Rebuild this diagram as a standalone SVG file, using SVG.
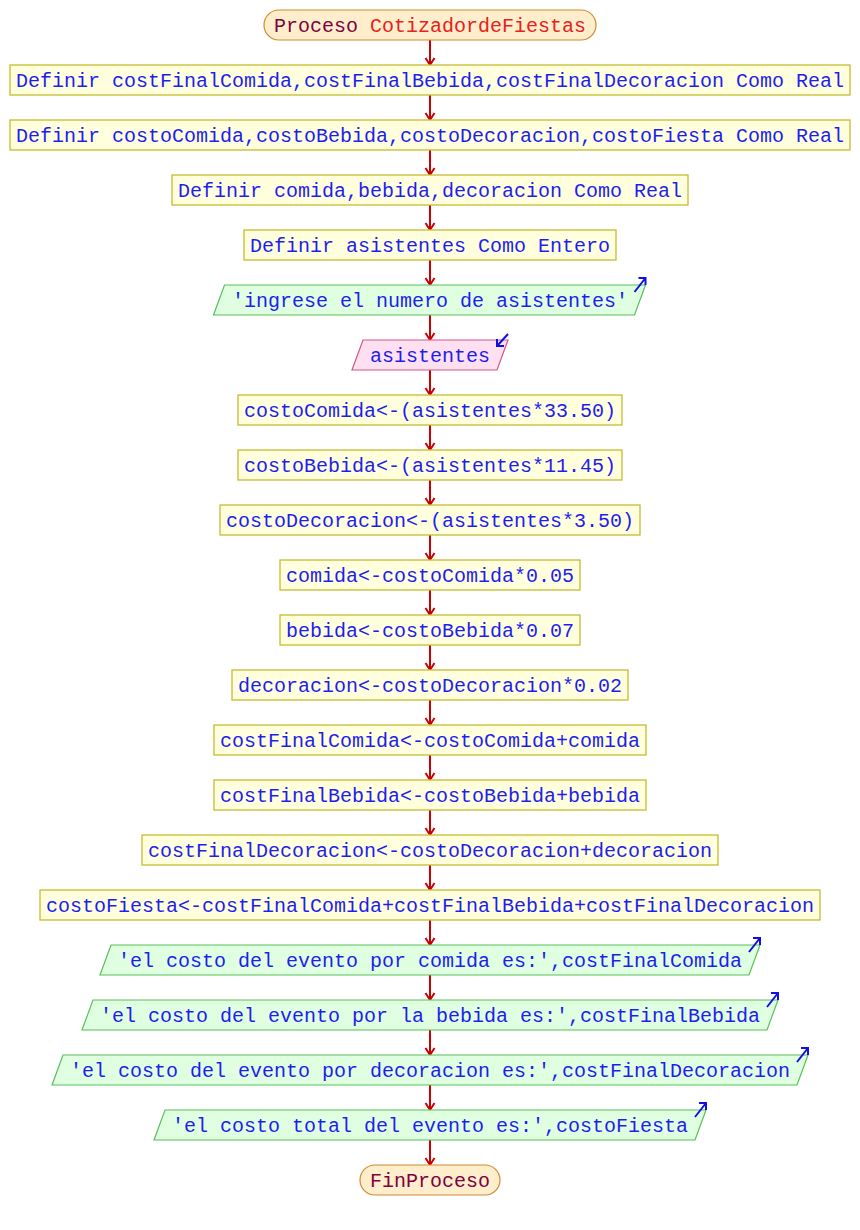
<svg xmlns="http://www.w3.org/2000/svg" xmlns:xlink="http://www.w3.org/1999/xlink" width="860" height="1230" viewBox="0 0 860 1230">
<style>
text{font-family:"Liberation Mono","Courier New",monospace;font-size:20px;text-anchor:middle;fill:#1e1ef0}
.kw{fill:#800040}
.nm{fill:#e82020}
.term{fill:#ffeecc;stroke:#d08a30;stroke-width:1.2}
.proc{fill:#ffffdd;stroke:#c4bc30;stroke-width:1.3}
.out{fill:#e0ffe0;stroke:#58c058;stroke-width:1.2}
.inp{fill:#ffe0f0;stroke:#d05888;stroke-width:1.2}
.conn{stroke:#cc0000;stroke-width:2;fill:none;marker-end:url(#arr)}
.icon{stroke:#1010e0;stroke-width:2;fill:none}
</style>
<defs>
<marker id="arr" markerUnits="userSpaceOnUse" viewBox="-9 -6 11 12" markerWidth="11" markerHeight="12" refX="0" refY="0" orient="auto">
<path d="M-7,-4.5 L0,0 L-7,4.5" fill="none" stroke="#cc0000" stroke-width="2"/>
</marker>
<path id="outIcon" class="icon" d="M-11,7 L0,-7 M-7,-7 L0,-7 L0,0"/>
<path id="inIcon" class="icon" d="M0,-6 L-11,6 M-4,6 L-11,6 L-11,-1"/>
</defs>
<rect width="860" height="1230" fill="#ffffff"/>
<g id="connectors">
<path class="conn" d="M430,40 V65"/>
<path class="conn" d="M430,95 V120"/>
<path class="conn" d="M430,150 V175"/>
<path class="conn" d="M430,205 V230"/>
<path class="conn" d="M430,260 V285"/>
<path class="conn" d="M430,315 V340"/>
<path class="conn" d="M430,370 V395"/>
<path class="conn" d="M430,425 V450"/>
<path class="conn" d="M430,480 V505"/>
<path class="conn" d="M430,535 V560"/>
<path class="conn" d="M430,590 V615"/>
<path class="conn" d="M430,645 V670"/>
<path class="conn" d="M430,700 V725"/>
<path class="conn" d="M430,755 V780"/>
<path class="conn" d="M430,810 V835"/>
<path class="conn" d="M430,865 V890"/>
<path class="conn" d="M430,920 V945"/>
<path class="conn" d="M430,975 V1000"/>
<path class="conn" d="M430,1030 V1055"/>
<path class="conn" d="M430,1085 V1110"/>
<path class="conn" d="M430,1140 V1165"/>
</g>
<g id="n0"><rect class="term" x="264" y="10" width="332" height="30" rx="15" ry="15"/><text x="430" y="32"><tspan class="kw">Proceso</tspan> <tspan class="nm">CotizadordeFiestas</tspan></text></g>
<g id="n1"><rect class="proc" x="10" y="65" width="840" height="30"/><text x="430" y="87">Definir costFinalComida,costFinalBebida,costFinalDecoracion Como Real</text></g>
<g id="n2"><rect class="proc" x="10" y="120" width="840" height="30"/><text x="430" y="142">Definir costoComida,costoBebida,costoDecoracion,costoFiesta Como Real</text></g>
<g id="n3"><rect class="proc" x="172" y="175" width="516" height="30"/><text x="430" y="197">Definir comida,bebida,decoracion Como Real</text></g>
<g id="n4"><rect class="proc" x="244" y="230" width="372" height="30"/><text x="430" y="252">Definir asistentes Como Entero</text></g>
<g id="n5"><polygon class="out" points="224.5,285 645.5,285 634.5,315 213.5,315"/><text x="430" y="307">'ingrese el numero de asistentes'</text><use xlink:href="#outIcon" x="645.5" y="285"/></g>
<g id="n6"><polygon class="inp" points="363,340 508,340 497,370 352,370"/><text x="430" y="362">asistentes</text><use xlink:href="#inIcon" x="508" y="340"/></g>
<g id="n7"><rect class="proc" x="238" y="395" width="384" height="30"/><text x="430" y="417">costoComida&lt;-(asistentes*33.50)</text></g>
<g id="n8"><rect class="proc" x="238" y="450" width="384" height="30"/><text x="430" y="472">costoBebida&lt;-(asistentes*11.45)</text></g>
<g id="n9"><rect class="proc" x="220" y="505" width="420" height="30"/><text x="430" y="527">costoDecoracion&lt;-(asistentes*3.50)</text></g>
<g id="n10"><rect class="proc" x="280" y="560" width="300" height="30"/><text x="430" y="582">comida&lt;-costoComida*0.05</text></g>
<g id="n11"><rect class="proc" x="280" y="615" width="300" height="30"/><text x="430" y="637">bebida&lt;-costoBebida*0.07</text></g>
<g id="n12"><rect class="proc" x="232" y="670" width="396" height="30"/><text x="430" y="692">decoracion&lt;-costoDecoracion*0.02</text></g>
<g id="n13"><rect class="proc" x="214" y="725" width="432" height="30"/><text x="430" y="747">costFinalComida&lt;-costoComida+comida</text></g>
<g id="n14"><rect class="proc" x="214" y="780" width="432" height="30"/><text x="430" y="802">costFinalBebida&lt;-costoBebida+bebida</text></g>
<g id="n15"><rect class="proc" x="142" y="835" width="576" height="30"/><text x="430" y="857">costFinalDecoracion&lt;-costoDecoracion+decoracion</text></g>
<g id="n16"><rect class="proc" x="40" y="890" width="780" height="30"/><text x="430" y="912">costoFiesta&lt;-costFinalComida+costFinalBebida+costFinalDecoracion</text></g>
<g id="n17"><polygon class="out" points="111,945 760,945 749,975 100,975"/><text x="430" y="967">'el costo del evento por comida es:',costFinalComida</text><use xlink:href="#outIcon" x="760" y="945"/></g>
<g id="n18"><polygon class="out" points="93,1000 778,1000 767,1030 82,1030"/><text x="430" y="1022">'el costo del evento por la bebida es:',costFinalBebida</text><use xlink:href="#outIcon" x="778" y="1000"/></g>
<g id="n19"><polygon class="out" points="63,1055 808,1055 797,1085 52,1085"/><text x="430" y="1077">'el costo del evento por decoracion es:',costFinalDecoracion</text><use xlink:href="#outIcon" x="808" y="1055"/></g>
<g id="n20"><polygon class="out" points="165,1110 706,1110 695,1140 154,1140"/><text x="430" y="1132">'el costo total del evento es:',costoFiesta</text><use xlink:href="#outIcon" x="706" y="1110"/></g>
<g id="n21"><rect class="term" x="360" y="1165" width="140" height="30" rx="15" ry="15"/><text x="430" y="1187" class="kw">FinProceso</text></g>
</svg>
